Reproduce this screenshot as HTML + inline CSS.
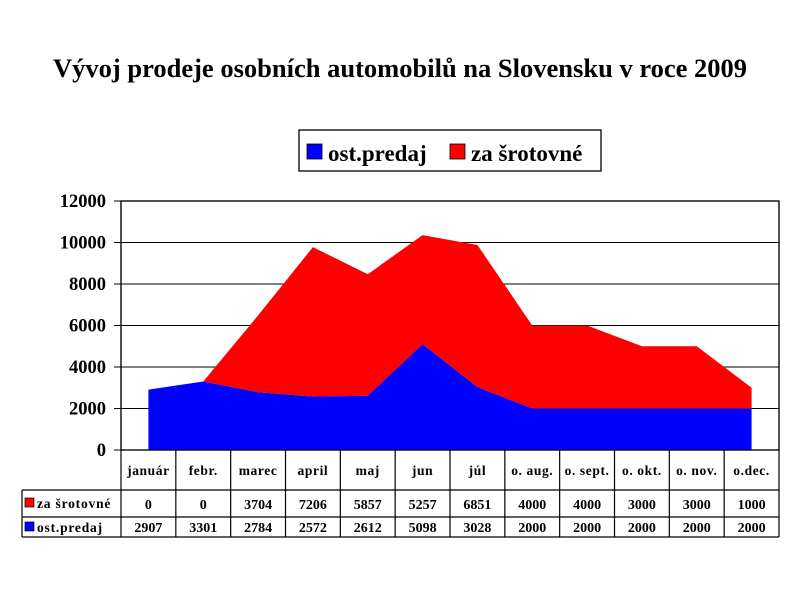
<!DOCTYPE html>
<html><head><meta charset="utf-8"><style>
body{margin:0;background:#fff;}
svg{display:block;font-family:"Liberation Serif",serif;}
</style></head><body>
<svg id="s" width="800" height="600" xmlns="http://www.w3.org/2000/svg">
<text x="400" y="77" text-anchor="middle" font-size="26.5" font-weight="bold">Vývoj prodeje osobních automobilů na Slovensku v roce 2009</text>
<rect x="299" y="130" width="302" height="41" fill="#fff" stroke="#000" stroke-width="1.3"/>
<rect x="307" y="144" width="15" height="15" fill="#0000ff" stroke="#000" stroke-width="0.8"/>
<text x="328" y="161" font-size="23" font-weight="bold">ost.predaj</text>
<rect x="450" y="144" width="15" height="15" fill="#ff0000" stroke="#000" stroke-width="0.8"/>
<text x="471" y="161" font-size="23" font-weight="bold">za šrotovné</text>
<g id="g"></g>
</svg>
<script>
var g=document.getElementById('g'),h='';
var L=121,R=779,T=201,B=450,W=(R-L)/12;
var blue=[2907,3301,2784,2572,2612,5098,3028,2000,2000,2000,2000,2000];
var red=[0,0,3704,7206,5857,5257,6851,4000,4000,3000,3000,1000];
var cat=['január','febr.','marec','april','maj','jun','júl','o. aug.','o. sept.','o. okt.','o. nov.','o.dec.'];
function Y(v){return B-v*(B-T)/12000;}
function X(i){return L+W*(i+.5);}
h+='<rect x="'+L+'" y="'+T+'" width="'+(R-L)+'" height="'+(B-T)+'" fill="#fff" stroke="#000" stroke-width="1.2"/>';
for(var k=1;k<6;k++){var y=Y(k*2000);h+='<line x1="'+L+'" x2="'+R+'" y1="'+y+'" y2="'+y+'" stroke="#000" stroke-width="1"/>';}
var p='',q='';
for(var i=0;i<12;i++){p+=X(i)+','+Y(blue[i]+red[i])+' ';}
for(var i=11;i>=0;i--){p+=X(i)+','+Y(blue[i])+' ';}
for(var i=0;i<12;i++){q+=X(i)+','+Y(blue[i])+' ';}
q+=X(11)+','+B+' '+X(0)+','+B;
h+='<polygon points="'+p+'" fill="#ff0000"/>';
h+='<polygon points="'+q+'" fill="#0000ff"/>';
h+='<rect x="'+L+'" y="'+T+'" width="'+(R-L)+'" height="'+(B-T)+'" fill="none" stroke="#000" stroke-width="1.2"/>';
for(var k=0;k<7;k++){var y=Y(k*2000);h+='<line x1="114" x2="'+L+'" y1="'+y+'" y2="'+y+'" stroke="#000"/>';
h+='<text x="106" y="'+(y+6)+'" text-anchor="end" font-size="18.5" font-weight="bold">'+(k*2000)+'</text>';}
var r1=490,r2=517,r3=537;
h+='<g stroke="#000" stroke-width="1.2" fill="none">';
h+='<line x1="'+L+'" x2="'+L+'" y1="'+B+'" y2="'+r3+'"/>';
h+='<line x1="'+R+'" x2="'+R+'" y1="'+B+'" y2="'+r3+'"/>';
h+='<line x1="22" x2="'+R+'" y1="'+r1+'" y2="'+r1+'"/>';
h+='<line x1="22" x2="'+R+'" y1="'+r2+'" y2="'+r2+'"/>';
h+='<line x1="22" x2="'+R+'" y1="'+r3+'" y2="'+r3+'"/>';
h+='<line x1="22" x2="22" y1="'+r1+'" y2="'+r3+'"/>';
for(var i=1;i<12;i++){var x=L+W*i;h+='<line x1="'+x+'" x2="'+x+'" y1="'+B+'" y2="'+r3+'"/>';}
h+='</g>';
for(var i=0;i<12;i++){
h+='<text x="'+X(i)+'" y="475" text-anchor="middle" font-size="13.5" font-weight="bold" letter-spacing="0.6">'+cat[i]+'</text>';
h+='<text x="'+X(i)+'" y="509" text-anchor="middle" font-size="14" font-weight="bold">'+red[i]+'</text>';
h+='<text x="'+X(i)+'" y="532" text-anchor="middle" font-size="14" font-weight="bold">'+blue[i]+'</text>';}
h+='<rect x="25" y="498" width="9" height="9" fill="#ff0000" stroke="#000" stroke-width="0.7"/>';
h+='<text x="37" y="508" font-size="13.5" font-weight="bold" letter-spacing="0.8">za šrotovné</text>';
h+='<rect x="25" y="522" width="9" height="9" fill="#0000ff" stroke="#000" stroke-width="0.7"/>';
h+='<text x="37" y="532" font-size="13.5" font-weight="bold" letter-spacing="0.8">ost.predaj</text>';
g.innerHTML=h;
</script>
</body></html>
